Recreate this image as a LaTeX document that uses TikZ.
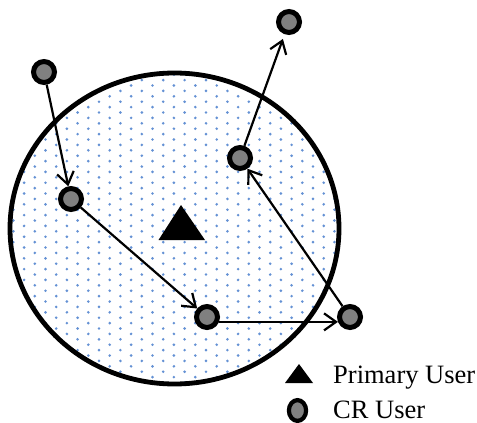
\documentclass[tikz,border=0pt]{standalone}
\usepackage{fontspec}
\setmainfont{Liberation Serif}
\usetikzlibrary{arrows.meta}
\definecolor{crgray}{RGB}{128,128,128}
\definecolor{dotblue}{RGB}{100,145,212}
\begin{document}
\begin{tikzpicture}[x=1pt,y=-1pt,
  cr/.style={circle,draw=black,fill=crgray,line width=5pt,minimum size=21pt,inner sep=0pt},
  link/.style={line width=2.2pt,-{Straight Barb[length=12pt,width=17pt]}},
  legendtext/.style={anchor=base west,inner sep=0pt,font=\fontsize{26.5}{30}\selectfont}
  ]
\useasboundingbox (0,0) rectangle (477,423);
% dotted area
\begin{scope}
  \clip (174.5,228.5) ellipse [x radius=164.5, y radius=155.5];
  \foreach \i in {0,...,32}{
    \foreach \j in {0,...,30}{
      \fill[dotblue] ({2.7+10.7*\i},{63.9+5.4*mod(\i,2)+10.8*\j}) circle (1.45pt);
    }
  }
\end{scope}
\draw[line width=4.8pt] (174.5,228.5) ellipse [x radius=164.5, y radius=155.5];
% primary user
\fill (181,205) -- (158.5,240) -- (205,240) -- cycle;
% CR users
\node[cr] (A) at (44,72) {};
\node[cr] (B) at (71,199) {};
\node[cr] (C) at (207,317) {};
\node[cr] (D) at (350,317) {};
\node[cr] (E) at (240,158) {};
\node[cr] (F) at (289,22) {};
% links
\draw[link] (A) -- (B);
\draw[link] (B) -- (C);
\draw[link] (C.-22) -- (D.-158);
\draw[link] (D) -- (E);
\draw[link,shorten >=5pt] (E) -- (F);
% legend
\fill (299,364) -- (285,383) -- (313,383) -- cycle;
\node[legendtext] (lp) at (333,383) {Primary User};
\draw[line width=4.2pt,fill=crgray] (297.5,410.5) ellipse [x radius=8.6, y radius=10.4];
\node[legendtext] (lc) at (333,418) {CR User};
\end{tikzpicture}
\end{document}
